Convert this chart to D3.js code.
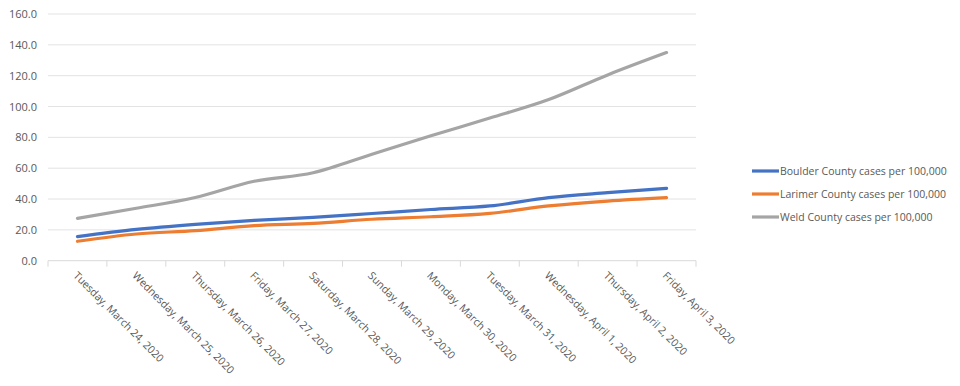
<!DOCTYPE html>
<html><head><meta charset="utf-8">
<script src="https://cdn.jsdelivr.net/npm/d3@7"></script>
<style>body{margin:0;background:#fff}svg{display:block}text{font-family:"Open Sans",sans-serif}</style>
</head><body><svg id="c" width="960" height="386"></svg>
<script>
const categories = ["Tuesday, March 24, 2020","Wednesday, March 25, 2020","Thursday, March 26, 2020","Friday, March 27, 2020","Saturday, March 28, 2020","Sunday, March 29, 2020","Monday, March 30, 2020","Tuesday, March 31, 2020","Wednesday, April 1, 2020","Thursday, April 2, 2020","Friday, April 3, 2020"];
const boulder = [15.6, 20.3, 23.6, 26.2, 28.1, 30.6, 33.2, 35.5, 40.9, 44.1, 46.9];
const larimer = [12.6, 17.3, 19.5, 22.7, 24.2, 26.9, 28.5, 30.7, 35.5, 38.7, 40.9];
const weld = [27.5, 34.0, 41.0, 51.5, 57.0, 69.0, 81.0, 92.5, 104.5, 120.5, 135.0];
const seriesNames = ["Boulder County cases per 100,000","Larimer County cases per 100,000","Weld County cases per 100,000"];
const yTicks = [0,20,40,60,80,100,120,140,160];

const colors = ["#4472C4","#ED7D31","#A5A5A5"];
const series = [boulder, larimer, weld];
const svg = d3.select("#c");
const L = 48, R = 696, T = 14, B = 260.7;
const x = d3.scaleBand().domain(categories).range([L, R]);
const y = d3.scaleLinear().domain([0,160]).range([B, T]);

svg.append("g").selectAll("line").data(yTicks).join("line")
  .attr("x1", L).attr("x2", R).attr("y1", d=>y(d)).attr("y2", d=>y(d))
  .attr("stroke", d=> d===0 ? "#d9d9d9" : "#e3e3e3").attr("stroke-width",1);
svg.append("g").selectAll("text").data(yTicks).join("text")
  .attr("x", 37).attr("y", d=>y(d)+4).attr("text-anchor","end")
  .attr("font-size", 11).attr("fill","#595959").text(d=>d.toFixed(1));
const bounds = categories.map(c=>x(c)).concat([R]);
svg.append("g").selectAll("line").data(bounds).join("line")
  .attr("x1", d=>d).attr("x2", d=>d).attr("y1", B).attr("y2", B+6)
  .attr("stroke","#d9d9d9");
svg.append("g").selectAll("text").data(categories).join("text")
  .attr("transform", d=>`translate(${x(d)+x.bandwidth()/2 - 2},${B+13}) rotate(45)`)
  .attr("font-size", 10.6).attr("fill","#595959").attr("dy","0.35em").text(d=>d);

const line = d3.line().x((d,i)=>x(categories[i])+x.bandwidth()/2).y(d=>y(d)).curve(d3.curveMonotoneX);
series.forEach((s,k)=>{
  svg.append("path").datum(s).attr("d", line).attr("fill","none")
    .attr("stroke", colors[k]).attr("stroke-width", 3.2).attr("stroke-linecap","round");
});

const lg = svg.append("g");
seriesNames.forEach((n,k)=>{
  const yy = 171 + k*23;
  lg.append("line").attr("x1",752).attr("x2",779).attr("y1",yy).attr("y2",yy)
    .attr("stroke", colors[k]).attr("stroke-width",3.2);
  lg.append("text").attr("x",780).attr("y",yy+4).attr("font-size",10.5).attr("fill","#595959").text(n);
});
</script></body></html>
